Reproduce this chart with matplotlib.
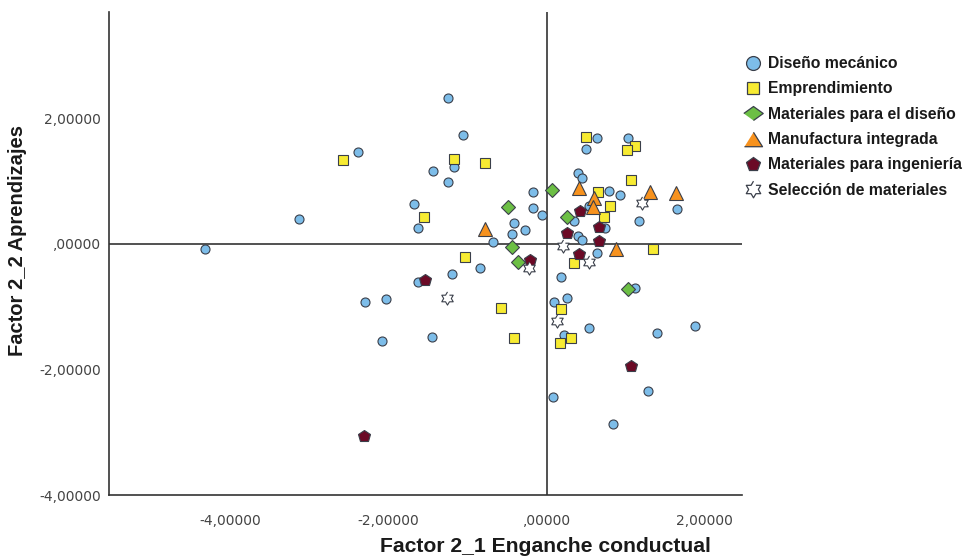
import numpy as np
import matplotlib.pyplot as plt
from matplotlib.lines import Line2D

plt.rcParams['font.family'] = ['Liberation Sans', 'DejaVu Sans']

# Diseño mecánico (circles)
dm_x = [-1.25, -1.06, -2.39, -1.17, -1.44, -1.25, -0.18, -1.68, -0.18, -0.06,
        -1.63, -0.42, -0.44, -0.27, -0.68, -3.13, -4.32, 0.63, 0.49, 1.03,
        0.39, 0.45, 0.79, 0.93, 0.53, 1.65, 0.34, 0.74, 1.17, 0.39,
        0.45, 0.63, 0.18, 1.12, 0.09, 0.25, 0.53, 1.39, 1.87, 0.22,
        1.28, 0.08, 0.84, -0.85, -1.20, -1.63, -2.30, -2.03, -2.08, -1.45]
dm_y = [2.33, 1.74, 1.47, 1.23, 1.16, 0.99, 0.83, 0.64, 0.57, 0.46,
        0.25, 0.33, 0.16, 0.22, 0.03, 0.40, -0.08, 1.69, 1.51, 1.69,
        1.13, 1.05, 0.84, 0.78, 0.61, 0.56, 0.37, 0.25, 0.37, 0.13,
        0.06, -0.14, -0.53, -0.70, -0.92, -0.86, -1.34, -1.42, -1.31, -1.45,
        -2.34, -2.44, -2.87, -0.38, -0.48, -0.61, -0.92, -0.88, -1.55, -1.48]

# Emprendimiento (squares)
em_x = [-2.58, -1.17, -0.78, -1.56, -1.04, 0.49, 1.12, 1.01, 1.07, 0.65,
        0.80, 0.73, 1.34, 0.34, -0.58, -0.41, 0.18, 0.31, 0.17]
em_y = [1.34, 1.35, 1.29, 0.43, -0.21, 1.71, 1.56, 1.50, 1.02, 0.83,
        0.61, 0.43, -0.08, -0.30, -1.02, -1.50, -1.04, -1.50, -1.58]

# Materiales para el diseño (diamonds)
md_x = [0.07, -0.49, -0.44, -0.37, 0.26, 1.03]
md_y = [0.86, 0.59, -0.05, -0.29, 0.43, -0.72]

# Manufactura integrada (triangles)
mi_x = [-0.78, 0.41, 0.60, 0.58, 1.31, 1.63, 0.88]
mi_y = [0.24, 0.89, 0.73, 0.59, 0.83, 0.81, -0.08]

# Materiales para ingeniería (pentagons)
ing_x = [-0.21, -1.54, -2.31, 0.42, 0.66, 0.25, 0.66, 0.41, 1.07]
ing_y = [-0.26, -0.57, -3.06, 0.53, 0.27, 0.18, 0.05, -0.16, -1.94]

# Selección de materiales (stars)
sm_x = [1.21, 0.20, 0.53, -0.23, -1.26, 0.13]
sm_y = [0.65, -0.03, -0.29, -0.38, -0.86, -1.23]

xticks = [-4, -2, 0, 2]
yticks = [-4, -2, 0, 2]
xtick_labels = ['-4,00000', '-2,00000', ',00000', '2,00000']
ytick_labels = ['-4,00000', '-2,00000', ',00000', '2,00000']

# six-pointed star outline, like the SPSS marker
ang = np.pi / 2 + np.arange(12) * np.pi / 6
rad = np.where(np.arange(12) % 2 == 0, 1.0, 0.58)
hexstar = list(zip(rad * np.cos(ang), rad * np.sin(ang)))
flat_diamond = [(-1, 0), (0, 0.72), (1, 0), (0, -0.72)]
flat_tri = [(-1, -0.8), (1, -0.8), (0, 0.8)]

fig = plt.figure(figsize=(9.73, 5.6), dpi=100)
fig.patch.set_facecolor('white')
ax = fig.add_axes([0.112, 0.116, 0.6506, 0.863])

edge = '#3a3f4a'
# name, x, y, marker, colour, size, legend marker, legend size
series = [
    ('Diseño mecánico', dm_x, dm_y, 'o', '#7dbde9', 6.5, 'o', 10),
    ('Emprendimiento', em_x, em_y, 's', '#f7eb32', 7.5, 's', 9),
    ('Materiales para el diseño', md_x, md_y, 'D', '#6cbf45', 7.0, flat_diamond, 14),
    ('Manufactura integrada', mi_x, mi_y, '^', '#f7921e', 9.5, flat_tri, 13),
    ('Materiales para ingeniería', ing_x, ing_y, 'p', '#6b0a26', 8.8, 'p', 10.5),
    ('Selección de materiales', sm_x, sm_y, hexstar, '#ffffff', 9.5, hexstar, 12),
]

handles = []
for name, xs, ys, mk, col, ms, lmk, lms in series:
    ax.plot(xs, ys, linestyle='none', marker=mk, markersize=ms,
            markerfacecolor=col, markeredgecolor=edge, markeredgewidth=0.8,
            zorder=3)
    handles.append(Line2D([], [], linestyle='none', marker=lmk, markersize=lms,
                          markerfacecolor=col, markeredgecolor=edge,
                          markeredgewidth=0.9, label=name))

ax.axhline(0, color='#333333', linewidth=1.2, zorder=2)
ax.axvline(0, color='#333333', linewidth=1.2, zorder=2)

ax.set_xlim(-5.54, 2.47)
ax.set_ylim(-4, 3.70)
ax.set_xticks(xticks)
ax.set_xticklabels(xtick_labels)
ax.set_yticks(yticks)
ax.set_yticklabels(ytick_labels)
for lab in ax.get_xticklabels() + ax.get_yticklabels():
    lab.set_family('DejaVu Sans')
ax.tick_params(axis='both', length=0, labelsize=10, labelcolor='#444444')
ax.tick_params(axis='x', pad=14)
ax.tick_params(axis='y', pad=6)

ax.spines['top'].set_visible(False)
ax.spines['right'].set_visible(False)
ax.spines['left'].set_color('#333333')
ax.spines['bottom'].set_color('#333333')
ax.spines['left'].set_linewidth(1.2)
ax.spines['bottom'].set_linewidth(1.2)

fig.text(545 / 973, 1 - 547 / 560, 'Factor 2_1 Enganche conductual',
         ha='center', va='center', fontsize=15.2, fontweight='bold', color='#1a1a1a')
fig.text(18 / 973, 1 - 240 / 560, 'Factor 2_2 Aprendizajes', rotation=90,
         ha='center', va='center', fontsize=14.5, fontweight='bold', color='#1a1a1a')

fig.legend(handles=handles, loc='upper left', bbox_to_anchor=(745 / 973, 1 - 56 / 560),
           frameon=False, prop={'size': 11.3, 'weight': 'bold'},
           handlelength=1.0, handletextpad=0.44, labelspacing=0.66,
           borderaxespad=0, borderpad=0, labelcolor='#1a1a1a')

fig.savefig('out.png', dpi=100, facecolor='white')
